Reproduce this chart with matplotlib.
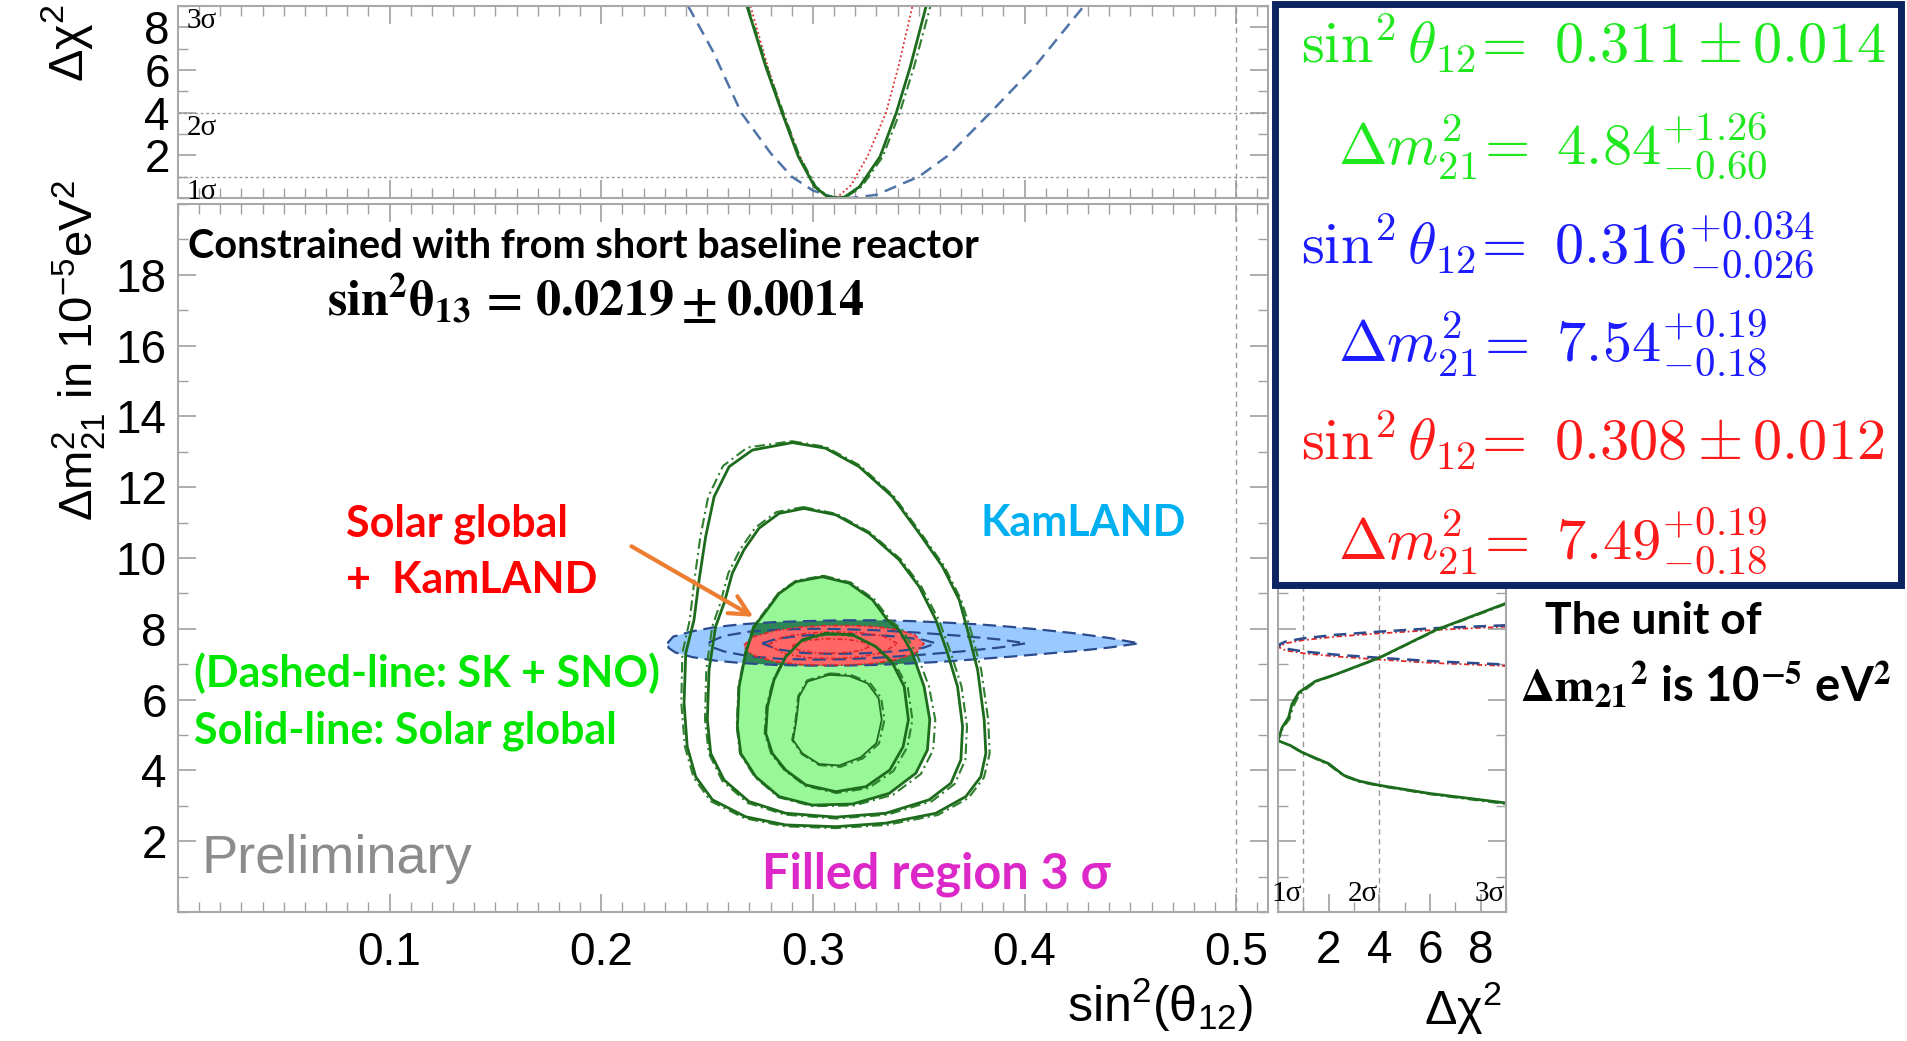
import matplotlib
matplotlib.use('Agg')
import matplotlib.pyplot as plt
from matplotlib.patches import Rectangle
from matplotlib.ticker import MultipleLocator

plt.rcParams['font.family'] = ['Liberation Sans', 'DejaVu Sans']
plt.rcParams['mathtext.fontset'] = 'custom'
plt.rcParams['mathtext.rm'] = 'Liberation Sans'
plt.rcParams['mathtext.it'] = 'Liberation Sans:italic'
plt.rcParams['mathtext.bf'] = 'Liberation Sans:bold'

# ---- solar global contours (solid) and SK+SNO (dash-dot), sin^2(theta12) vs dm2_21
c5_x = [.2903, .3060, .3218, .3376, .3502, .3612, .3691, .3730, .3778, .3809, .3817, .3793, .3722, .3581, .3344,
        .3108, .2871, .2682, .2525, .2446, .2406, .2391, .2399, .2438, .2462, .2493, .2533, .2604, .2714]
c5_y = [13.26, 13.10, 12.58, 11.73, 10.70, 9.76, 8.82, 7.97, 6.84, 5.43, 4.48, 3.82, 3.26, 2.79, 2.51,
        2.41, 2.46, 2.69, 3.17, 3.82, 4.67, 5.90, 7.31, 8.25, 9.38, 10.60, 11.73, 12.58, 13.05]
c5d_x = [.2900, .3060, .3220, .3380, .3508, .3620, .3700, .3745, .3795, .3828, .3835, .3808, .3735, .3590, .3350,
         .3108, .2868, .2676, .2517, .2436, .2395, .2378, .2383, .2418, .2440, .2468, .2505, .2575, .2690]
c5d_y = [13.30, 13.14, 12.62, 11.76, 10.72, 9.77, 8.82, 7.97, 6.84, 5.43, 4.48, 3.80, 3.22, 2.74, 2.46,
         2.37, 2.42, 2.65, 3.13, 3.80, 4.67, 5.90, 7.31, 8.25, 9.38, 10.60, 11.73, 12.60, 13.12]

c4_x = [.2958, .3108, .3265, .3407, .3502, .3581, .3636, .3683, .3707, .3699, .3652, .3549, .3344, .3108, .2871,
        .2698, .2580, .2517, .2501, .2509, .2540, .2580, .2619, .2674, .2745, .2840]
c4_y = [11.40, 11.22, 10.70, 9.95, 9.19, 8.25, 7.31, 6.37, 5.24, 4.30, 3.64, 3.17, 2.79, 2.68, 2.79,
        3.12, 3.73, 4.48, 5.43, 6.84, 8.06, 8.72, 9.57, 10.23, 10.84, 11.26]
c4d_x = [.2955, .3110, .3270, .3415, .3512, .3595, .3652, .3702, .3728, .3720, .3670, .3562, .3352, .3110, .2868,
         .2692, .2572, .2508, .2490, .2496, .2524, .2562, .2600, .2655, .2728, .2828]
c4d_y = [11.44, 11.25, 10.72, 9.96, 9.19, 8.25, 7.31, 6.37, 5.24, 4.30, 3.62, 3.13, 2.75, 2.64, 2.75,
         3.08, 3.70, 4.48, 5.43, 6.84, 8.06, 8.72, 9.57, 10.23, 10.86, 11.30]

c3_x = [.3045, .3171, .3281, .3352, .3407, .3470, .3525, .3552, .3541, .3486, .3360, .3187, .2997, .2840, .2730,
        .2659, .2643, .2651, .2682, .2722, .2777, .2840, .2919]
c3_y = [9.47, 9.29, 8.82, 8.25, 7.97, 7.31, 6.37, 5.43, 4.58, 3.92, 3.35, 3.05, 3.02, 3.26, 3.82,
        4.48, 5.24, 6.37, 7.31, 8.06, 8.49, 9.00, 9.33]
c3d_x = [.3050, .3178, .3290, .3365, .3422, .3490, .3548, .3578, .3568, .3510, .3378, .3195, .2998, .2838, .2726,
         .2655, .2640, .2648, .2679, .2718, .2773, .2838, .2920]
c3d_y = [9.50, 9.31, 8.83, 8.25, 7.97, 7.31, 6.37, 5.43, 4.58, 3.90, 3.31, 3.01, 2.99, 3.24, 3.81,
         4.48, 5.24, 6.37, 7.31, 8.06, 8.50, 9.02, 9.36]

c2_x = [.3061, .3187, .3297, .3376, .3431, .3451, .3426, .3363, .3250, .3108, .2966, .2871, .2808, .2777,
        .2785, .2816, .2871, .2950]
c2_y = [7.87, 7.83, 7.50, 7.03, 6.37, 5.43, 4.67, 4.01, 3.54, 3.40, 3.59, 4.01, 4.48, 5.05,
        5.80, 6.56, 7.21, 7.69]
c2d_x = [.3065, .3195, .3308, .3390, .3448, .3470, .3446, .3380, .3262, .3112, .2966, .2868, .2803, .2772,
         .2780, .2812, .2868, .2950]
c2d_y = [7.84, 7.80, 7.46, 6.99, 6.34, 5.43, 4.66, 3.98, 3.50, 3.36, 3.56, 3.99, 4.47, 5.05,
         5.80, 6.55, 7.19, 7.66]

c1_x = [.3076, .3171, .3258, .3310, .3325, .3300, .3226, .3124, .3029, .2950, .2906, .2922, .2934, .2974]
c1_y = [6.70, 6.67, 6.46, 6.04, 5.43, 4.77, 4.37, 4.14, 4.18, 4.48, 4.86, 5.43, 6.08, 6.51]
c1d_x = [.3080, .3178, .3268, .3322, .3338, .3312, .3236, .3130, .3030, .2948, .2902, .2918, .2930, .2972]
c1d_y = [6.74, 6.70, 6.48, 6.05, 5.43, 4.76, 4.34, 4.10, 4.15, 4.46, 4.86, 5.43, 6.09, 6.54]

# ---- KamLAND contours
kl3_x = [.2312, .2340, .2430, .2540, .2666, .2820, .2982, .3140, .3297, .3455, .3612, .3770, .3927, .4085, .4242,
         .4400, .4541, .4400, .4242, .4085, .3927, .3770, .3612, .3455, .3297, .3140, .2982, .2820, .2666,
         .2540, .2430, .2350, .2318]
kl3_y = [7.59, 7.78, 7.93, 8.05, 8.13, 8.19, 8.22, 8.24, 8.24, 8.22, 8.18, 8.13, 8.06, 7.97, 7.87,
         7.74, 7.59, 7.47, 7.37, 7.29, 7.21, 7.14, 7.07, 7.02, 6.98, 6.96, 6.96, 6.98, 7.03,
         7.10, 7.20, 7.33, 7.46]
kl2_x = [.2509, .2580, .2700, .2850, .3000, .3140, .3300, .3500, .3700, .3880, .4006, .3880, .3700, .3500,
         .3300, .3140, .3000, .2850, .2700, .2580, .2515]
kl2_y = [7.62, 7.80, 7.92, 7.98, 8.00, 7.99, 7.96, 7.89, 7.80, 7.70, 7.59, 7.47, 7.36, 7.26,
         7.18, 7.14, 7.13, 7.15, 7.22, 7.36, 7.50]
kl1_x = [.2761, .2830, .2950, .3100, .3250, .3400, .3520, .3581, .3520, .3400, .3250, .3100, .2950, .2830]
kl1_y = [7.59, 7.72, 7.81, 7.85, 7.84, 7.78, 7.69, 7.59, 7.46, 7.37, 7.31, 7.29, 7.32, 7.42]

# ---- solar global + KamLAND contours
sk3_x = [.2674, .2720, .2824, .2940, .3060, .3180, .3297, .3400, .3480, .3525, .3490, .3400, .3297, .3180,
         .3060, .2940, .2824, .2730, .2685]
sk3_y = [7.54, 7.78, 7.95, 8.05, 8.09, 8.09, 8.06, 7.97, 7.83, 7.58, 7.33, 7.14, 7.03, 6.98,
         6.97, 6.99, 7.07, 7.22, 7.38]
sk2_x = [.2790, .2860, .2980, .3100, .3220, .3330, .3400, .3330, .3220, .3100, .2980, .2860]
sk2_y = [7.55, 7.78, 7.88, 7.91, 7.89, 7.80, 7.58, 7.33, 7.20, 7.16, 7.18, 7.30]
sk1_x = [.2900, .2960, .3060, .3160, .3240, .3270, .3220, .3120, .3010, .2930]
sk1_y = [7.52, 7.66, 7.72, 7.70, 7.62, 7.50, 7.38, 7.31, 7.32, 7.40]

# ---- delta chi2 vs sin^2(theta12) (top panel)
top_sol_x = [.2688, .2777, .2854, .2931, .3008, .3066, .3110, .3150, .3220, .3317, .3394, .3460, .3535]
top_sol_y = [9.0, 6.16, 4.0, 1.94, 0.53, 0.08, 0.0, 0.05, 0.53, 1.94, 4.0, 6.16, 9.0]
top_sksno_x = [.2692, .2782, .2860, .2938, .3014, .3072, .3115, .3158, .3230, .3330, .3410, .3478, .3555]
top_sksno_y = [9.0, 6.16, 4.0, 1.94, 0.53, 0.08, 0.0, 0.05, 0.53, 1.94, 4.0, 6.16, 9.0]
top_comb_x = [.2705, .2785, .2858, .2935, .3005, .3060, .3085, .3120, .3180, .3260, .3345, .3405, .3470]
top_comb_y = [9.0, 6.2, 4.0, 2.0, 0.6, 0.08, 0.0, 0.08, 0.6, 2.0, 4.0, 6.2, 9.0]
top_kl_x = [.2410, .2526, .2661, .2800, .2900, .3000, .3100, .3180, .3300, .3500, .3640, .3838, .4051, .4280]
top_kl_y = [9.0, 6.9, 4.0, 2.1, 1.0, 0.35, 0.03, 0.0, 0.15, 1.0, 2.0, 4.0, 6.2, 9.0]

# ---- delta chi2 vs dm2 (right panel)
r_sol_chi = [9.0, 6.24, 3.99, 2.27, 1.48, 0.82, 0.55, 0.42, 0.16, 0.0, 0.5, 0.95, 2.0, 2.6, 3.2, 3.99, 5.97, 9.0]
r_sol_dm = [8.72, 7.97, 7.18, 6.71, 6.52, 6.20, 5.87, 5.50, 5.21, 4.84, 4.70, 4.51, 4.19, 3.86, 3.70, 3.58, 3.35, 3.08]
r_sksno_chi = [9.0, 6.24, 3.99, 2.27, 1.48, 0.85, 0.60, 0.45, 0.18, 0.0, 0.5, 0.95, 2.0, 2.6, 3.2, 3.99, 5.97, 9.0]
r_sksno_dm = [8.70, 7.95, 7.17, 6.70, 6.50, 6.15, 5.80, 5.45, 5.18, 4.84, 4.69, 4.50, 4.16, 3.84, 3.68, 3.56, 3.33, 3.05]
r_kl_chi = [9.0, 6.24, 4.0, 2.27, 1.0, 0.3, 0.0, 0.3, 1.0, 2.27, 4.0, 6.24, 9.0]
r_kl_dm = [8.10, 8.02, 7.92, 7.83, 7.73, 7.64, 7.54, 7.44, 7.36, 7.27, 7.18, 7.08, 6.99]
r_comb_dm = [8.06, 7.97, 7.87, 7.78, 7.68, 7.59, 7.49, 7.39, 7.31, 7.22, 7.13, 7.03, 6.95]

W, H = 1907, 1041
fig = plt.figure(figsize=(W / 100, H / 100), dpi=100)


def fx(px):
    return px / W


def fy(py):
    return 1 - py / H


ax_top = fig.add_axes([fx(178), fy(198), fx(1268) - fx(178), fy(6) - fy(198)])
ax = fig.add_axes([fx(178), fy(912), fx(1268) - fx(178), fy(204) - fy(912)])
ax_r = fig.add_axes([fx(1278), fy(912), fx(1506) - fx(1278), fy(204) - fy(912)])

for a in (ax_top, ax, ax_r):
    for s in a.spines.values():
        s.set_color('#a8a8a8')
        s.set_linewidth(1.5)
    a.tick_params(which='both', direction='in', top=True, right=True, colors='#a0a0a0', labelcolor='black')
    a.tick_params(which='major', length=13, width=1.2)
    a.tick_params(which='minor', length=7, width=1.0)

GREEN = '#1d6b1d'
FILL_G = '#98f898'
SOLID = dict(color=GREEN, lw=2.0)
DASHDOT = dict(color='#2f7f2f', lw=1.5, ls=(0, (5, 2, 1, 2)))
BLUE = '#2b4b8c'
RED = '#e02828'
TICK_SIZE = 33

# main panel
ax.set_xlim(0, 0.515)
ax.set_ylim(0, 20)
ax.xaxis.set_major_locator(MultipleLocator(0.1))
ax.xaxis.set_minor_locator(MultipleLocator(0.01))
ax.yaxis.set_major_locator(MultipleLocator(2))
ax.yaxis.set_minor_locator(MultipleLocator(1))
ax.set_xticks([0.1, 0.2, 0.3, 0.4, 0.5], ['0.1', '0.2', '0.3', '0.4', '0.5'])
ax.tick_params(axis='x', labelsize=TICK_SIZE, pad=14)
ax.tick_params(axis='y', labelsize=TICK_SIZE, pad=8)
ax.set_yticks(range(2, 20, 2))
ax.axvline(0.5, color='#999999', lw=1, ls=(0, (4, 3)), zorder=1)

ax.fill(kl3_x, kl3_y, color='#99c9ff', lw=0, zorder=1)
g_patch = ax.fill(c3_x, c3_y, color=FILL_G, lw=0, zorder=2)[0]
dark = ax.fill(kl3_x, kl3_y, color='#2e8656', lw=0, zorder=3)[0]
dark.set_clip_path(g_patch)
ax.fill(sk3_x, sk3_y, color='#ff6666', lw=0, zorder=4)

for xs, ys in [(kl3_x, kl3_y), (kl2_x, kl2_y), (kl1_x, kl1_y)]:
    ax.plot(xs + xs[:1], ys + ys[:1], color=BLUE, lw=1.6, ls=(0, (6, 3)), zorder=5)
for xs, ys in [(sk3_x, sk3_y), (sk2_x, sk2_y), (sk1_x, sk1_y)]:
    ax.plot(xs + xs[:1], ys + ys[:1], color=RED, lw=1.2, ls=(0, (3, 1.5, 1, 1.5)), zorder=5)

for xs, ys in [(c5d_x, c5d_y), (c4d_x, c4d_y), (c3d_x, c3d_y), (c2d_x, c2d_y), (c1d_x, c1d_y)]:
    ax.plot(xs + xs[:1], ys + ys[:1], zorder=6, **DASHDOT)
for xs, ys in [(c5_x, c5_y), (c4_x, c4_y), (c3_x, c3_y), (c2_x, c2_y)]:
    ax.plot(xs + xs[:1], ys + ys[:1], zorder=7, **SOLID)
ax.plot(c1_x + c1_x[:1], c1_y + c1_y[:1], color=GREEN, lw=1.3, zorder=7)

# annotations in main panel
CAL = ['Lato', 'DejaVu Sans']
ANN = 31
ax.text(0.0047, 18.79, 'Constrained with from short baseline reactor', family=CAL, weight='bold',
        fontsize=28.5, va='center', ha='left')
ax.text(0.1976, 17.32, r'$\mathbf{sin^2\theta_{13}\,=\,0.0219\pm 0.0014}$', math_fontfamily='stix',
        fontsize=36, va='center', ha='center')
ax.text(0.0794, 10.96, 'Solar global', family=CAL, weight='bold', fontsize=ANN, color='#ff0000',
        va='center', ha='left')
ax.text(0.0794, 9.38, '+  KamLAND', family=CAL, weight='bold', fontsize=ANN, color='#ff0000',
        va='center', ha='left')
ax.text(0.3792, 10.99, 'KamLAND', family=CAL, weight='bold', fontsize=ANN, color='#00b0f0',
        va='center', ha='left')
ax.text(0.0076, 6.75, '(Dashed-line: SK + SNO)', family=CAL, weight='bold', fontsize=ANN, color='#00e600',
        va='center', ha='left')
ax.text(0.0076, 5.11, 'Solid-line: Solar global', family=CAL, weight='bold', fontsize=ANN, color='#00e600',
        va='center', ha='left')
ax.text(0.0113, 1.50, 'Preliminary', fontsize=39, color='#8c8c8c', va='center', ha='left')
ax.text(0.2761, 1.07, 'Filled region 3 σ', family=CAL, weight='bold', fontsize=35, color='#dc28c8',
        va='center', ha='left')
ax.annotate('', xy=(0.2730, 8.30), xytext=(0.2131, 10.37),
            arrowprops=dict(arrowstyle='->', color='#ed7d31', lw=3, mutation_scale=35), zorder=8)

# top panel
ax_top.set_xlim(0, 0.515)
ax_top.set_ylim(0, 9)
ax_top.xaxis.set_major_locator(MultipleLocator(0.1))
ax_top.xaxis.set_minor_locator(MultipleLocator(0.01))
ax_top.set_yticks([2, 4, 6, 8])
ax_top.yaxis.set_minor_locator(MultipleLocator(1))
ax_top.tick_params(axis='x', labelbottom=False)
ax_top.tick_params(axis='y', labelsize=TICK_SIZE, pad=6)
for lev in (1, 4):
    ax_top.axhline(lev, color='#999999', lw=1, ls=(0, (2, 2)))
ax_top.axvline(0.5, color='#999999', lw=1, ls=(0, (4, 3)))
for lev, lab in [(9, '3σ'), (4, '2σ'), (1, '1σ')]:
    ax_top.text(0.004, lev - 0.1, lab, family='Liberation Serif', fontsize=21, va='top', ha='left')
ax_top.plot(top_kl_x, top_kl_y, color='#4f74a8', lw=1.8, ls=(0, (5, 3)))
ax_top.plot(top_comb_x, top_comb_y, color=RED, lw=1.3, ls=(0, (1, 1.5)))
ax_top.plot(top_sksno_x, top_sksno_y, **DASHDOT)
ax_top.plot(top_sol_x, top_sol_y, **SOLID)

# right panel
ax_r.set_xlim(0, 9)
ax_r.set_ylim(0, 20)
ax_r.set_xticks([2, 4, 6, 8])
ax_r.xaxis.set_minor_locator(MultipleLocator(1))
ax_r.yaxis.set_major_locator(MultipleLocator(2))
ax_r.yaxis.set_minor_locator(MultipleLocator(1))
ax_r.tick_params(axis='y', labelleft=False)
ax_r.tick_params(axis='x', labelsize=TICK_SIZE, pad=12)
for lev in (1, 4):
    ax_r.axvline(lev, color='#999999', lw=1, ls=(0, (4, 3)))
for lev, lab in [(1, '1σ'), (4, '2σ'), (9, '3σ')]:
    ax_r.text(lev - 0.05, 0.15, lab, family='Liberation Serif', fontsize=21, va='bottom', ha='right')
ax_r.plot(r_kl_chi, r_comb_dm, color=RED, lw=1.3, ls=(0, (3, 1.5, 1, 1.5)))
ax_r.plot(r_kl_chi, r_kl_dm, color=BLUE, lw=1.8, ls=(0, (5, 3)))
ax_r.plot(r_sksno_chi, r_sksno_dm, **DASHDOT)
ax_r.plot(r_sol_chi, r_sol_dm, **SOLID)

# axis titles
fig.text(fx(1253), fy(1005), r'sin$^2$(θ$_{12}$)', fontsize=36, ha='right', va='center')
fig.text(fx(1502), fy(1008), r'Δχ$^2$', fontsize=35, ha='right', va='center')
fig.text(fx(67), fy(4), r'Δχ$^2$', fontsize=35, rotation=90, ha='center', va='top')
fig.text(fx(79), fy(180), r'Δm$^2_{21}$ in 10$^{-5}$eV$^2$', fontsize=34, rotation=90, ha='center', va='top')

# result box
box = Rectangle((fx(1275), fy(585)), fx(1901) - fx(1275), fy(4) - fy(585), transform=fig.transFigure,
                facecolor='white', edgecolor='#0c2461', lw=5, zorder=5)
fig.add_artist(box)
box_lines = [
    (1301, 63, r'$\sin^2\theta_{12}\!=\ 0.311\pm0.014$', '#1fe81f'),
    (1338, 164, r'$\mathit{\Delta} m^2_{21}\!=\ 4.84^{+1.26}_{-0.60}$', '#1fe81f'),
    (1301, 263, r'$\sin^2\theta_{12}\!=\ 0.316^{+0.034}_{-0.026}$', '#1c1cff'),
    (1338, 361, r'$\mathit{\Delta} m^2_{21}\!=\ 7.54^{+0.19}_{-0.18}$', '#1c1cff'),
    (1301, 460, r'$\sin^2\theta_{12}\!=\ 0.308\pm0.012$', '#ff1a1a'),
    (1338, 559, r'$\mathit{\Delta} m^2_{21}\!=\ 7.49^{+0.19}_{-0.18}$', '#ff1a1a'),
]
for px, py, s, c in box_lines:
    fig.text(fx(px), fy(py), s, math_fontfamily='cm', fontsize=42, color=c, ha='left', va='baseline',
             zorder=6)

fig.text(fx(1545), fy(621), 'The unit of', family=CAL, weight='bold', fontsize=32, ha='left', va='center')
fig.text(fx(1520), fy(685), r'$\mathbf{\Delta m_{21}}^{\mathbf{2}}$ is 10$^{\mathbf{-5}}$ eV$^{\mathbf{2}}$',
         family=CAL, weight='bold', math_fontfamily='stix', fontsize=34, ha='left', va='center')

fig.savefig('out.png', dpi=100)
